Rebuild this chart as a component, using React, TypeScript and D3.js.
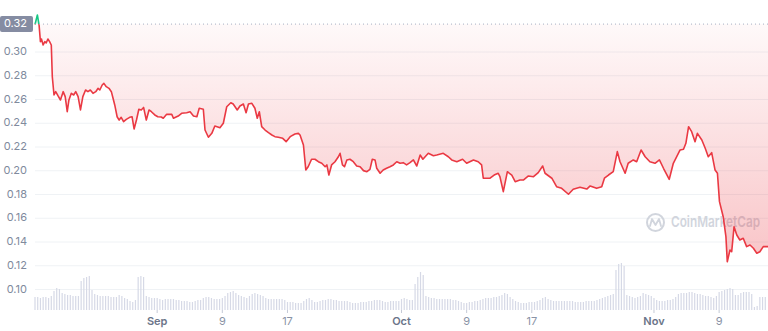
import React, { useEffect } from "react";
import * as d3 from "d3";

// Hours since 2022-08-17 00:00 for each price point
const hours = [
  0, 7, 12, 16, 19, 24, 29, 33, 38, 43,
  48, 51, 56, 61, 68, 75, 83, 89, 95, 100,
  107, 114, 120, 127, 134, 141, 149, 156, 163, 171,
  179, 186, 191, 198, 203, 210, 218, 225, 230, 235,
  242, 248, 254, 261, 269, 279, 286, 292, 299, 306,
  313, 320, 328, 336, 343, 353, 362, 372, 378, 388,
  403, 408, 422, 432, 447, 457, 467, 477, 484, 496,
  501, 511, 521, 530, 545, 555, 565, 577, 584, 596,
  604, 614, 622, 629, 639, 648, 655, 661, 668, 678,
  688, 698, 707, 717, 730, 740, 752, 766, 776, 781,
  791, 798, 805, 815, 825, 835, 845, 855, 860, 866,
  874, 884, 894, 899, 906, 912, 919, 928, 938, 948,
  958, 968, 978, 987, 994, 1002, 1007, 1017, 1026, 1036,
  1046, 1056, 1066, 1076, 1085, 1095, 1105, 1115, 1125, 1135,
  1143, 1159, 1174, 1184, 1203, 1218, 1228, 1243, 1260, 1272,
  1292, 1306, 1316, 1321, 1341, 1353, 1365, 1370, 1380, 1392,
  1405, 1415, 1429, 1439, 1454, 1469, 1483, 1496, 1503, 1523,
  1537, 1552, 1572, 1586, 1606, 1626, 1636, 1655, 1670, 1678,
  1690, 1704, 1716, 1724, 1739, 1748, 1763, 1773, 1786, 1798,
  1812, 1827, 1840, 1852, 1869, 1881, 1891, 1901, 1911, 1918,
  1926, 1935, 1945, 1952, 1965, 1975, 1984, 1994, 2004, 2011,
  2017, 2028, 2036, 2040, 2048, 2053, 2060, 2068, 2077, 2087,
  2097, 2107, 2117, 2127, 2136, 2146, 2160,
];

const prices = [
  0.3232, 0.3312, 0.3227, 0.3087, 0.3109, 0.3059, 0.3087, 0.3076, 0.3109, 0.3087,
  0.3059, 0.2792, 0.2638, 0.2666, 0.2630, 0.2596, 0.2666, 0.2624, 0.2497, 0.2596,
  0.2652, 0.2638, 0.2666, 0.2624, 0.2512, 0.2624, 0.2680, 0.2666, 0.2680, 0.2652,
  0.2666, 0.2694, 0.2680, 0.2722, 0.2736, 0.2708, 0.2694, 0.2666, 0.2610, 0.2554,
  0.2455, 0.2427, 0.2450, 0.2413, 0.2433, 0.2450, 0.2455, 0.2352, 0.2427, 0.2518,
  0.2512, 0.2533, 0.2427, 0.2512, 0.2497, 0.2470, 0.2455, 0.2453, 0.2442, 0.2475,
  0.2475, 0.2442, 0.2461, 0.2484, 0.2489, 0.2497, 0.2461, 0.2455, 0.2526, 0.2518,
  0.2343, 0.2282, 0.2315, 0.2377, 0.2363, 0.2400, 0.2539, 0.2573, 0.2562, 0.2512,
  0.2545, 0.2562, 0.2489, 0.2562, 0.2568, 0.2526, 0.2442, 0.2497, 0.2371, 0.2343,
  0.2321, 0.2301, 0.2287, 0.2282, 0.2273, 0.2245, 0.2287, 0.2310, 0.2315, 0.2301,
  0.2217, 0.2006, 0.2034, 0.2097, 0.2097, 0.2076, 0.2063, 0.2034, 0.2049, 0.1964,
  0.2049, 0.2076, 0.2118, 0.2147, 0.2049, 0.2034, 0.2091, 0.2097, 0.2076, 0.2040,
  0.2034, 0.2001, 0.1992, 0.2012, 0.2097, 0.2091, 0.2021, 0.1979, 0.2006, 0.2021,
  0.2034, 0.2049, 0.2076, 0.2063, 0.2068, 0.2049, 0.2068, 0.2091, 0.2040, 0.2133,
  0.2097, 0.2147, 0.2127, 0.2133, 0.2147, 0.2118, 0.2091, 0.2076, 0.2097, 0.2063,
  0.2091, 0.2076, 0.2049, 0.1937, 0.1937, 0.1964, 0.1979, 0.1950, 0.1824, 0.1992,
  0.1964, 0.1908, 0.1922, 0.1922, 0.1956, 0.1950, 0.1984, 0.2040, 0.1979, 0.1937,
  0.1866, 0.1852, 0.1802, 0.1844, 0.1861, 0.1846, 0.1872, 0.1852, 0.1866, 0.1937,
  0.1964, 0.1992, 0.2161, 0.2076, 0.1979, 0.2063, 0.2091, 0.2076, 0.2175, 0.2118,
  0.2076, 0.2063, 0.2091, 0.2021, 0.1928, 0.2063, 0.2118, 0.2175, 0.2181, 0.2231,
  0.2371, 0.2329, 0.2245, 0.2315, 0.2259, 0.2189, 0.2118, 0.2152, 0.2006, 0.1979,
  0.1740, 0.1613, 0.1445, 0.1234, 0.1333, 0.1319, 0.1529, 0.1459, 0.1417, 0.1431,
  0.1361, 0.1375, 0.1347, 0.1305, 0.1318, 0.1361, 0.1361,
];

// Volume bars, one every 8 hours (relative units)
const volumeStepHours = 8;
const volumes = [
  13, 13, 12, 13, 13, 12, 14, 19, 22, 21,
  17, 16, 15, 15, 14, 14, 14, 29, 32, 33,
  34, 20, 16, 15, 14, 14, 14, 14, 13, 13,
  13, 15, 14, 12, 11, 9, 8, 10, 33, 34,
  33, 14, 13, 12, 12, 12, 11, 10, 11, 11,
  11, 11, 10, 10, 9, 9, 9, 8, 8, 9,
  10, 10, 12, 13, 13, 12, 11, 11, 11, 12,
  14, 17, 18, 19, 17, 15, 14, 13, 12, 14,
  16, 17, 16, 15, 14, 12, 11, 11, 11, 11,
  11, 11, 10, 8, 8, 8, 7, 7, 7, 9,
  11, 12, 10, 8, 8, 9, 10, 10, 11, 11,
  10, 10, 9, 9, 9, 9, 8, 7, 7, 7,
  8, 8, 8, 9, 9, 10, 10, 10, 9, 8,
  8, 9, 9, 9, 9, 11, 12, 11, 10, 10,
  26, 33, 38, 35, 14, 13, 12, 12, 11, 11,
  11, 11, 11, 11, 10, 10, 9, 8, 7, 7,
  8, 8, 9, 9, 10, 11, 12, 12, 12, 13,
  13, 14, 15, 17, 16, 13, 11, 9, 8, 7,
  7, 7, 8, 8, 8, 9, 10, 12, 13, 11,
  10, 9, 9, 9, 9, 9, 9, 9, 9, 8,
  8, 8, 8, 9, 9, 9, 9, 10, 11, 12,
  13, 14, 15, 16, 40, 46, 47, 44, 15, 14,
  13, 12, 13, 14, 17, 16, 15, 14, 12, 10,
  9, 9, 9, 10, 10, 11, 13, 16, 17, 17,
  17, 18, 18, 17, 16, 16, 15, 14, 14, 13,
  12, 14, 18, 19, 20, 21, 22, 21, 15, 15,
  17, 18, 18, 18, 16, 3, 4, 13, 13, 13,
];

const yTicks = [0.1, 0.12, 0.14, 0.16, 0.18, 0.2, 0.22, 0.24, 0.26, 0.28, 0.3];
const xTickDates = ["2022-09-01", "2022-09-09", "2022-09-17", "2022-10-01", "2022-10-09", "2022-10-17", "2022-11-01", "2022-11-09"];
const xTickLabels = ["Sep", "9", "17", "Oct", "9", "17", "Nov", "9"];
const monthLabels = ["Sep", "Oct", "Nov"];
const openPrice = 0.3235;
const openLabel = "0.32";

const FONT = "Inter, 'Noto Sans', sans-serif";

export default function App() {
  useEffect(() => {
    document.body.style.margin = "0";
  }, []);

  const W = 768;
  const H = 331;
  const left = 35;
  const right = 768;
  const start = new Date(2022, 7, 17);
  const end = new Date(2022, 10, 15);
  const HOUR = 3600 * 1000;

  const x = d3.scaleTime().domain([start, end]).range([left, right]);
  const y = d3.scaleLinear().domain([0.1, 0.3]).range([289.5, 52]);
  const vy = d3.scaleLinear().domain([0, 50]).range([310, 260]);

  const n = Math.min(hours.length, prices.length);
  const data = d3.range(n).map((i) => ({ t: new Date(start.getTime() + hours[i] * HOUR), v: prices[i] }));

  const line = d3
    .line<{ t: Date; v: number }>()
    .x((d) => x(d.t))
    .y((d) => y(d.v));
  const baseY = y(openPrice);
  const area = d3
    .area<{ t: Date; v: number }>()
    .x((d) => x(d.t))
    .y0(baseY)
    .y1((d) => y(d.v));

  const linePath = line(data) || "";
  const areaPath = area(data) || "";

  const parse = d3.timeParse("%Y-%m-%d");

  return (
    <svg
      width={W}
      height={H}
      viewBox={`0 0 ${W} ${H}`}
      style={{ position: "absolute", left: 0, top: 0, display: "block", background: "#fff" }}
    >
      <defs>
        <clipPath id="below">
          <rect x={0} y={baseY} width={W} height={H - baseY} />
        </clipPath>
        <clipPath id="above">
          <rect x={0} y={0} width={W} height={baseY} />
        </clipPath>
        <linearGradient id="redFill" gradientUnits="userSpaceOnUse" x1={0} y1={baseY} x2={0} y2={265}>
          <stop offset="0" stopColor="#ea3943" stopOpacity={0.03} />
          <stop offset="1" stopColor="#ea3943" stopOpacity={0.3} />
        </linearGradient>
      </defs>

      {/* grid lines */}
      {yTicks.map((t) => (
        <line key={"g" + t} x1={left} x2={right} y1={y(t)} y2={y(t)} stroke="#eff2f5" strokeWidth={1} />
      ))}

      {/* volume bars */}
      {volumes.map((v, i) => {
        const bx = x(new Date(start.getTime() + i * volumeStepHours * HOUR));
        return <rect key={"v" + i} x={bx - 0.6} y={vy(v)} width={1.2} height={vy(0) - vy(v)} fill="#d6d9e6" />;
      })}

      {/* watermark */}
      <g opacity={0.9}>
        <circle cx={655.5} cy={222.5} r={8.5} fill="none" stroke="#cdd1da" strokeWidth={2} />
        <path d="M650,226 L652,219 L655.5,225 L659,219 L661,226" fill="none" stroke="#cdd1da" strokeWidth={1.8} strokeLinejoin="round" strokeLinecap="round" />
        <text x={671} y={223} dominantBaseline="middle" fontFamily={FONT} fontSize={15} fontWeight={600} fill="#cdd1da" textLength={89} lengthAdjust="spacingAndGlyphs">
          CoinMarketCap
        </text>
      </g>

      {/* area */}
      <path d={areaPath} fill="url(#redFill)" clipPath="url(#below)" />
      <path d={areaPath} fill="#16c784" fillOpacity={0.1} clipPath="url(#above)" />

      {/* price line */}
      <path d={linePath} fill="none" stroke="#ea3943" strokeWidth={1.6} strokeLinejoin="round" clipPath="url(#below)" />
      <path d={linePath} fill="none" stroke="#16c784" strokeWidth={1.6} strokeLinejoin="round" clipPath="url(#above)" />

      {/* open price dotted line */}
      <line x1={left} x2={right} y1={baseY} y2={baseY} stroke="#a6b0c3" strokeWidth={1} strokeDasharray="1 3" />

      {/* y labels */}
      {yTicks.map((t) => (
        <text key={"yl" + t} x={27} y={y(t)} textAnchor="end" dominantBaseline="middle" fontFamily={FONT} fontSize={11} fill="#808a9d">
          {t.toFixed(2)}
        </text>
      ))}

      {/* open price label */}
      <rect x={0} y={baseY - 8} width={33} height={16} rx={2} fill="#858ca2" />
      <text x={27} y={baseY} textAnchor="end" dominantBaseline="middle" fontFamily={FONT} fontSize={11} fill="#ffffff">
        {openLabel}
      </text>

      {/* x ticks */}
      {xTickDates.map((ds, i) => {
        const d = parse(ds) as Date;
        const tx = x(d);
        const isMonth = monthLabels.includes(xTickLabels[i]);
        return (
          <g key={"xt" + i}>
            <line x1={tx} x2={tx} y1={310} y2={313} stroke="#c5cad6" strokeWidth={1} />
            <text
              x={tx}
              y={322}
              textAnchor="middle"
              dominantBaseline="middle"
              fontFamily={FONT}
              fontSize={11}
              fontWeight={isMonth ? 600 : 400}
              fill={isMonth ? "#6b7589" : "#8a93a6"}
            >
              {xTickLabels[i]}
            </text>
          </g>
        );
      })}
    </svg>
  );
}
